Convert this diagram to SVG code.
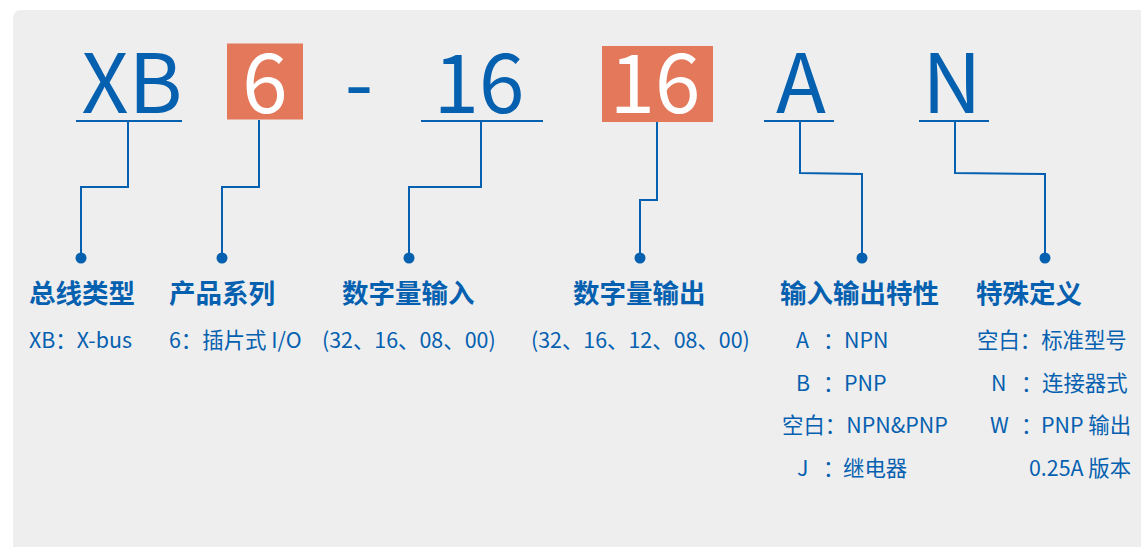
<svg xmlns="http://www.w3.org/2000/svg" width="1141" height="547" viewBox="0 0 1141 547">
<style>
.big{font-family:"Noto Sans CJK SC","Noto Sans",sans-serif;font-size:82px;fill:#0560b0}
.bigw{font-family:"Noto Sans CJK SC","Noto Sans",sans-serif;font-size:82px;fill:#ffffff}
.lab{font-family:"Noto Sans CJK SC",sans-serif;font-size:26.5px;font-weight:bold;fill:#0560b0}
.sub{font-family:"Noto Sans CJK SC",sans-serif;font-size:21.4px;fill:#0560b0}
.ul{stroke:#0560b0;stroke-width:2.2;fill:none}
.con{stroke:#0560b0;stroke-width:2;fill:none}
.dot{fill:#0560b0}
.box{fill:#e4785a}
</style>
<rect x="13" y="10" width="1150" height="560" rx="8" fill="#eeeeee"/>

<g id="code-xb">
<text class="big" x="132" y="113" text-anchor="middle">XB</text>
<line class="ul" x1="76" y1="121" x2="182" y2="121"/>
</g>
<g id="code-6">
<rect class="box" x="227" y="43.5" width="76" height="76"/>
<text class="bigw" x="265" y="113" text-anchor="middle">6</text>
</g>
<g id="code-dash">
<text class="big" x="359" y="113" text-anchor="middle">-</text>
</g>
<g id="code-16-in">
<text class="big" x="479" y="113" text-anchor="middle">16</text>
<line class="ul" x1="421" y1="121" x2="543" y2="121"/>
</g>
<g id="code-16-out">
<rect class="box" x="602" y="46" width="111" height="76"/>
<text class="bigw" x="655" y="113" text-anchor="middle">16</text>
</g>
<g id="code-a">
<text class="big" x="801" y="113" text-anchor="middle">A</text>
<line class="ul" x1="764" y1="121" x2="834" y2="121"/>
</g>
<g id="code-n">
<text class="big" x="952" y="113" text-anchor="middle">N</text>
<line class="ul" x1="919" y1="121" x2="989" y2="121"/>
</g>

<g id="connectors">
<polyline class="con" points="128,121 128,187 81,187 81,258"/>
<polyline class="con" points="259,120 259,187 222,187 222,258"/>
<polyline class="con" points="481,121 481,187 409,187 409,258"/>
<polyline class="con" points="657,122 657,200 640,200 640,258"/>
<polyline class="con" points="800,121 800,173 862,174 862,258"/>
<polyline class="con" points="955,121 955,173 1045,174 1045,258"/>
<circle class="dot" cx="81" cy="258" r="5.5"/>
<circle class="dot" cx="222" cy="258" r="5.5"/>
<circle class="dot" cx="409" cy="258" r="5.5"/>
<circle class="dot" cx="640" cy="258" r="5.5"/>
<circle class="dot" cx="862" cy="258" r="5.5"/>
<circle class="dot" cx="1045" cy="258" r="5.5"/>
</g>

<g id="bus-type">
<text class="lab" x="29" y="303">总线类型</text>
<text class="sub" x="29" y="348">XB：X-bus</text>
</g>
<g id="series">
<text class="lab" x="169" y="303">产品系列</text>
<text class="sub" x="169" y="348">6：插片式 I/O</text>
</g>
<g id="digital-in">
<text class="lab" x="342" y="303">数字量输入</text>
<text class="sub" x="322" y="348">(32、16、08、00)</text>
</g>
<g id="digital-out">
<text class="lab" x="573" y="303">数字量输出</text>
<text class="sub" x="531" y="348">(32、16、12、08、00)</text>
</g>
<g id="io-char">
<text class="lab" x="780" y="303">输入输出特性</text>
<text class="sub" y="348"><tspan x="796">A</tspan><tspan x="823">：</tspan><tspan x="844">NPN</tspan></text>
<text class="sub" y="391"><tspan x="796">B</tspan><tspan x="823">：</tspan><tspan x="844">PNP</tspan></text>
<text class="sub" x="782" y="433">空白：NPN&amp;PNP</text>
<text class="sub" y="476"><tspan x="797">J</tspan><tspan x="823">：</tspan><tspan x="843">继电器</tspan></text>
</g>
<g id="special">
<text class="lab" x="976" y="303">特殊定义</text>
<text class="sub" x="977" y="348">空白：标准型号</text>
<text class="sub" y="391"><tspan x="991">N</tspan><tspan x="1021">：</tspan><tspan x="1042">连接器式</tspan></text>
<text class="sub" y="433"><tspan x="990">W</tspan><tspan x="1021">：</tspan><tspan x="1041">PNP 输出</tspan></text>
<text class="sub" x="1029" y="476">0.25A 版本</text>
</g>
</svg>
